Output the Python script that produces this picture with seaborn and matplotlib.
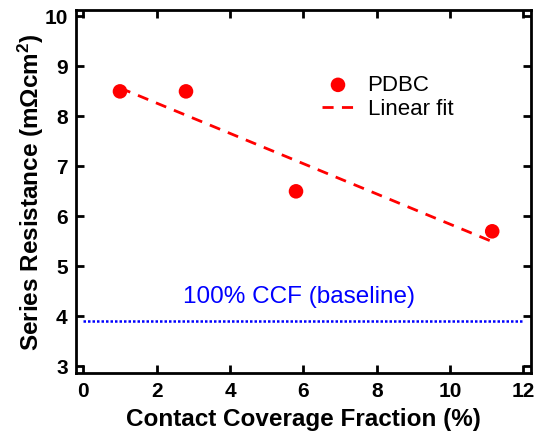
import numpy as np
import pandas as pd
import seaborn as sns
import matplotlib
matplotlib.use("Agg")
import matplotlib.pyplot as plt

ccf = [1.0, 2.8, 5.8, 11.15]
resistance = [8.5, 8.5, 6.5, 5.7]
baseline_value = 3.9
baseline_x = [0.0, 12.0]
xticks = [0, 2, 4, 6, 8, 10, 12]
yticks = [3, 4, 5, 6, 7, 8, 9, 10]

sns.set_style("ticks", rc={"axes.edgecolor": "black", "text.color": "black",
                           "xtick.color": "black", "ytick.color": "black",
                           "axes.labelcolor": "black"})
plt.rcParams['font.family'] = ['Liberation Sans', 'DejaVu Sans']
plt.rcParams['mathtext.fontset'] = 'custom'
plt.rcParams['mathtext.rm'] = 'Liberation Sans:bold'
plt.rcParams['mathtext.it'] = 'Liberation Sans:bold'
plt.rcParams['mathtext.bf'] = 'Liberation Sans:bold'
plt.rcParams['mathtext.default'] = 'bf'

df = pd.DataFrame({"ccf": ccf, "rs": resistance})
slope, intercept = np.polyfit(ccf, resistance, 1)
fit_x = [min(ccf), max(ccf)]
fit_df = pd.DataFrame({"x": fit_x, "y": [slope * v + intercept for v in fit_x]})
base_df = pd.DataFrame({"x": baseline_x, "y": [baseline_value] * len(baseline_x)})

fig, ax = plt.subplots(figsize=(5.35, 4.34), dpi=100)
fig.subplots_adjust(left=0.142, right=0.992, top=0.976, bottom=0.14)

sns.scatterplot(data=df, x="ccf", y="rs", ax=ax, color="#ff0000", s=110,
                edgecolor="none", label="PDBC", zorder=3)
sns.lineplot(data=fit_df, x="x", y="y", ax=ax, color="#ff0000", lw=2,
             dashes=False, linestyle=(0, (4, 3)), label="Linear fit")
sns.lineplot(data=base_df, x="x", y="y", ax=ax, color="#0000ff", lw=1.8,
             linestyle=(0, (1, 0.8)), legend=False)

ax.text(5.89, 4.38, "100% CCF (baseline)", color="#0000ff", fontsize=17.5,
        ha="center", va="center")

ax.set_xlim(-0.2, 12.2)
ax.set_ylim(2.86, 10.12)
ax.set_xticks(xticks)
ax.set_yticks(yticks)
ax.set_xlabel("Contact Coverage Fraction (%)", fontsize=17.5, fontweight="bold", labelpad=5)
ax.set_ylabel("Series Resistance (m$\\Omega$cm$^2$)", fontsize=17.5, fontweight="bold", labelpad=-1)
for lab in ax.get_xticklabels() + ax.get_yticklabels():
    lab.set_fontweight("bold")
    lab.set_fontsize(15)
ax.tick_params(direction="in", length=6, width=2, top=True, right=True, pad=6)
for sp in ax.spines.values():
    sp.set_linewidth(2)

leg = ax.legend(loc="upper left", bbox_to_anchor=(0.498, 0.878), frameon=False,
                fontsize=16, handlelength=1.4, handletextpad=0.63, labelspacing=0.15)

fig.savefig("out.png", dpi=100)
